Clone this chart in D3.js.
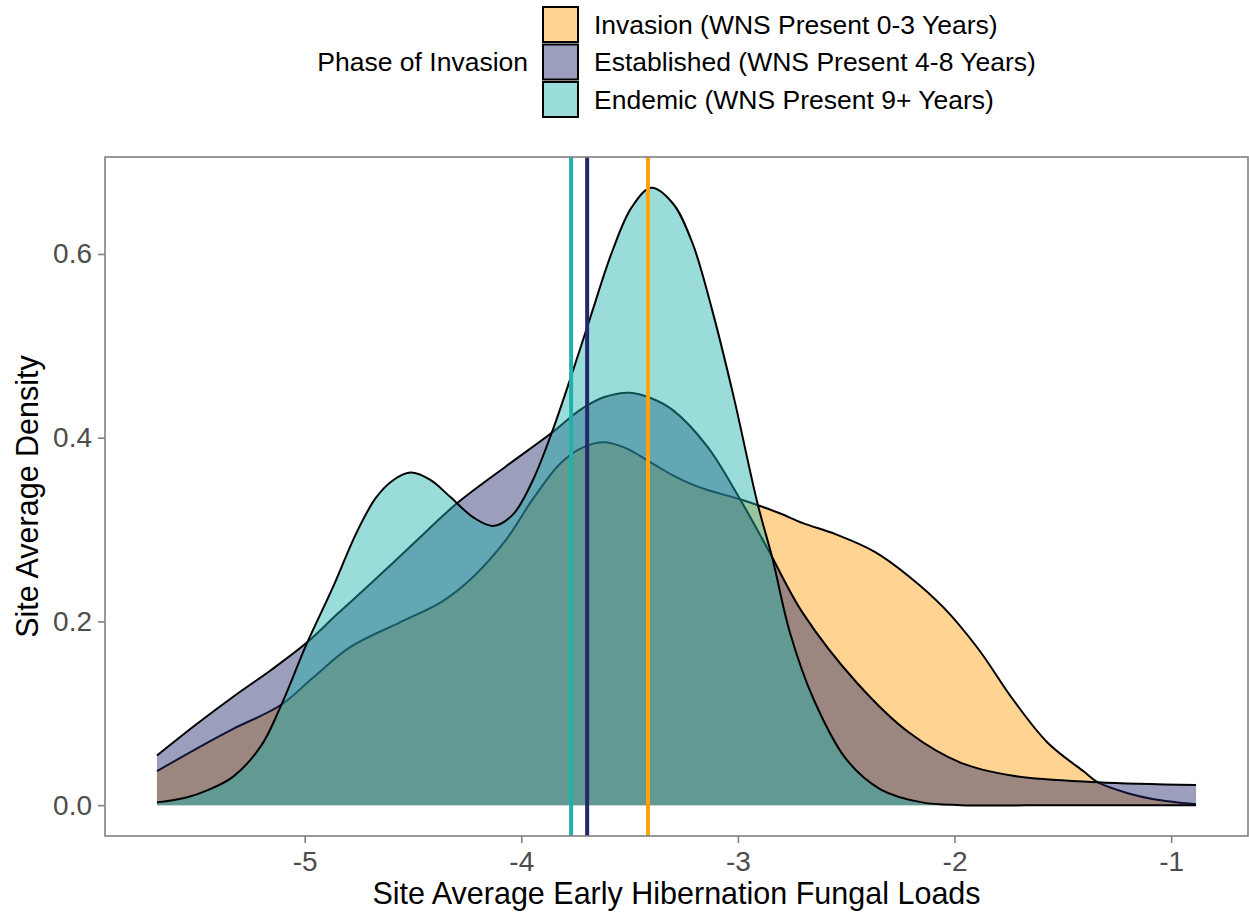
<!DOCTYPE html>
<html>
<head>
<meta charset="utf-8">
<script src="https://d3js.org/d3.v7.min.js"></script>
<style>
    body { margin: 0; background: #fff; }
    svg { display: block; font-family: "Liberation Sans", Arial, Helvetica, sans-serif; }
</style>
</head>
<body>
<div id="chart"></div>
<script>
// legend entries, in drawing order (first one ends up at the bottom)
var phases = ["Invasion (WNS Present 0-3 Years)",
              "Established (WNS Present 4-8 Years)",
              "Endemic (WNS Present 9+ Years)"];
var phaseColors = ["#FFA010", "#22286A", "#20B2AA"];
var phaseMeans = [-3.415, -3.696, -3.770];

// density curves (x = fungal load, y = density)
var invasionX = [-5.682, -5.48, -5.33, -5.11, -4.97, -4.79, -4.56, -4.37, -4.22, -4.07, -3.95, -3.82, -3.72, -3.62,
                 -3.52, -3.45, -3.38, -3.30, -3.22, -3.14, -2.99, -2.81, -2.70, -2.55, -2.37, -2.21, -2.05, -1.89,
                 -1.73, -1.57, -1.40, -1.34, -1.20, -1.08, -0.885];
var invasionY = [0.037, 0.064, 0.083, 0.109, 0.137, 0.172, 0.199, 0.221, 0.249, 0.289, 0.332, 0.372, 0.389, 0.395,
                 0.389, 0.380, 0.370, 0.359, 0.350, 0.343, 0.333, 0.318, 0.307, 0.295, 0.276, 0.249, 0.215, 0.170,
                 0.115, 0.068, 0.036, 0.025, 0.013, 0.0065, 0.001];

var establishedX = [-5.682, -5.50, -5.33, -5.15, -4.99, -4.85, -4.71, -4.51, -4.30, -4.07, -3.85, -3.73, -3.62,
                    -3.50, -3.40, -3.30, -3.14, -2.99, -2.86, -2.70, -2.45, -2.21, -1.97, -1.73, -1.34, -0.885];
var establishedY = [0.054, 0.088, 0.118, 0.148, 0.177, 0.208, 0.238, 0.282, 0.328, 0.369, 0.407, 0.430, 0.444,
                    0.449, 0.443, 0.430, 0.390, 0.333, 0.278, 0.209, 0.133, 0.079, 0.046, 0.032, 0.025, 0.022];

var endemicX = [-5.682, -5.55, -5.45, -5.33, -5.20, -5.11, -4.99, -4.87, -4.76, -4.67, -4.59, -4.51, -4.42, -4.33,
                -4.22, -4.13, -4.04, -3.95, -3.86, -3.76, -3.68, -3.58, -3.49, -3.40, -3.30, -3.21, -3.12,
                -3.02, -2.91, -2.84, -2.76, -2.65, -2.50, -2.34, -2.15, -1.97, -1.50, -0.885];
var endemicY = [0.003, 0.008, 0.016, 0.031, 0.065, 0.108, 0.176, 0.237, 0.297, 0.335, 0.354, 0.362, 0.354, 0.336,
                0.313, 0.304, 0.316, 0.352, 0.405, 0.474, 0.532, 0.603, 0.651, 0.672, 0.655, 0.612, 0.540,
                0.445, 0.329, 0.268, 0.188, 0.115, 0.050, 0.017, 0.003, 0, 0, 0];

var xTicks = [-5, -4, -3, -2, -1];
var yTicks = [0, 0.2, 0.4, 0.6];

var width = 1249, height = 917;
var panel = {left: 105, right: 1248, top: 157, bottom: 836};
var fillOpacity = 0.45;

var series = [
    {name: phases[0], color: phaseColors[0], xs: invasionX, ys: invasionY},
    {name: phases[1], color: phaseColors[1], xs: establishedX, ys: establishedY},
    {name: phases[2], color: phaseColors[2], xs: endemicX, ys: endemicY}
];

// ggplot style 5% expansion on both axes
var xMin = d3.min(series, function(s) { return d3.min(s.xs); }),
    xMax = d3.max(series, function(s) { return d3.max(s.xs); }),
    yMax = d3.max(series, function(s) { return d3.max(s.ys); }),
    xPad = (xMax - xMin) * 0.05,
    yPad = yMax * 0.05;

var xScale = d3.scaleLinear().domain([xMin - xPad, xMax + xPad]).range([panel.left, panel.right]);
var yScale = d3.scaleLinear().domain([-yPad, yMax + yPad]).range([panel.bottom, panel.top]);

var svg = d3.select("#chart").append("svg")
    .attr("width", width)
    .attr("height", height);

svg.append("rect")
    .attr("width", width)
    .attr("height", height)
    .attr("fill", "#fff");

var curve = d3.curveCatmullRom.alpha(0.5);

var area = d3.area()
    .x(function(d) { return xScale(d[0]); })
    .y0(yScale(0))
    .y1(function(d) { return yScale(d[1]); })
    .curve(curve);

var line = d3.line()
    .x(function(d) { return xScale(d[0]); })
    .y(function(d) { return yScale(d[1]); })
    .curve(curve);

var plot = svg.append("g").attr("class", "data");

// each density: fill then its upper outline, so later fills tint earlier lines
series.forEach(function(s) {
    var pts = s.xs.map(function(x, i) { return [x, s.ys[i]]; });
    plot.append("path")
        .datum(pts)
        .attr("d", area)
        .style("fill", s.color)
        .style("fill-opacity", fillOpacity)
        .style("stroke", "none");
    plot.append("path")
        .datum(pts)
        .attr("d", line)
        .style("fill", "none")
        .style("stroke", "#000")
        .style("stroke-width", 2);
});

// phase means
plot.selectAll("line.mean")
    .data(series.map(function(s, i) { return {x: phaseMeans[i], color: s.color}; }).reverse())
    .enter()
    .append("line")
    .attr("class", "mean")
    .attr("x1", function(d) { return xScale(d.x); })
    .attr("x2", function(d) { return xScale(d.x); })
    .attr("y1", panel.top)
    .attr("y2", panel.bottom)
    .style("stroke", function(d) { return d.color; })
    .style("stroke-width", 4);

// panel border
svg.append("rect")
    .attr("x", panel.left)
    .attr("y", panel.top)
    .attr("width", panel.right - panel.left)
    .attr("height", panel.bottom - panel.top)
    .style("fill", "none")
    .style("stroke", "#808080")
    .style("stroke-width", 1.6);

// axes
var xAxis = svg.append("g")
    .attr("transform", "translate(0," + panel.bottom + ")")
    .call(d3.axisBottom(xScale).tickValues(xTicks).tickSize(7).tickPadding(8).tickFormat(d3.format("d")));

var yAxis = svg.append("g")
    .attr("transform", "translate(" + panel.left + ",0)")
    .call(d3.axisLeft(yScale).tickValues(yTicks).tickSize(7).tickPadding(6).tickFormat(d3.format(".1f")));

[xAxis, yAxis].forEach(function(ax) {
    ax.select(".domain").remove();
    ax.selectAll(".tick line").style("stroke", "#808080").style("stroke-width", 1.6);
    ax.selectAll(".tick text")
        .style("font-size", "28px")
        .style("font-family", "Liberation Sans, Arial, sans-serif")
        .style("fill", "#4D4D4D");
});

// negative numbers in ggplot use a plain hyphen
xAxis.selectAll(".tick text").text(function(d) { return String(d); });

svg.append("text")
    .attr("x", (panel.left + panel.right) / 2)
    .attr("y", 904)
    .attr("text-anchor", "middle")
    .style("font-size", "30.5px")
    .text("Site Average Early Hibernation Fungal Loads");

svg.append("text")
    .attr("transform", "translate(38," + ((panel.top + panel.bottom) / 2) + ") rotate(-90)")
    .attr("text-anchor", "middle")
    .style("font-size", "30.5px")
    .text("Site Average Density");

// legend
var legend = svg.append("g").attr("class", "legend");
var keyX = 543, keySize = 35, rowY = [24.5, 62, 99.5];

legend.append("text")
    .attr("x", 528)
    .attr("y", rowY[1])
    .attr("dy", "0.35em")
    .attr("text-anchor", "end")
    .style("font-size", "26.5px")
    .text("Phase of Invasion");

var rows = legend.selectAll("g.row")
    .data(series)
    .enter()
    .append("g")
    .attr("class", "row")
    .attr("transform", function(d, i) { return "translate(0," + rowY[i] + ")"; });

rows.append("rect")
    .attr("x", keyX)
    .attr("y", -keySize / 2)
    .attr("width", keySize)
    .attr("height", keySize)
    .style("fill", function(d) { return d.color; })
    .style("fill-opacity", fillOpacity)
    .style("stroke", "#000")
    .style("stroke-width", 2);

rows.append("text")
    .attr("x", 594)
    .attr("dy", "0.35em")
    .style("font-size", "26.5px")
    .text(function(d) { return d.name; });
</script>
</body>
</html>
